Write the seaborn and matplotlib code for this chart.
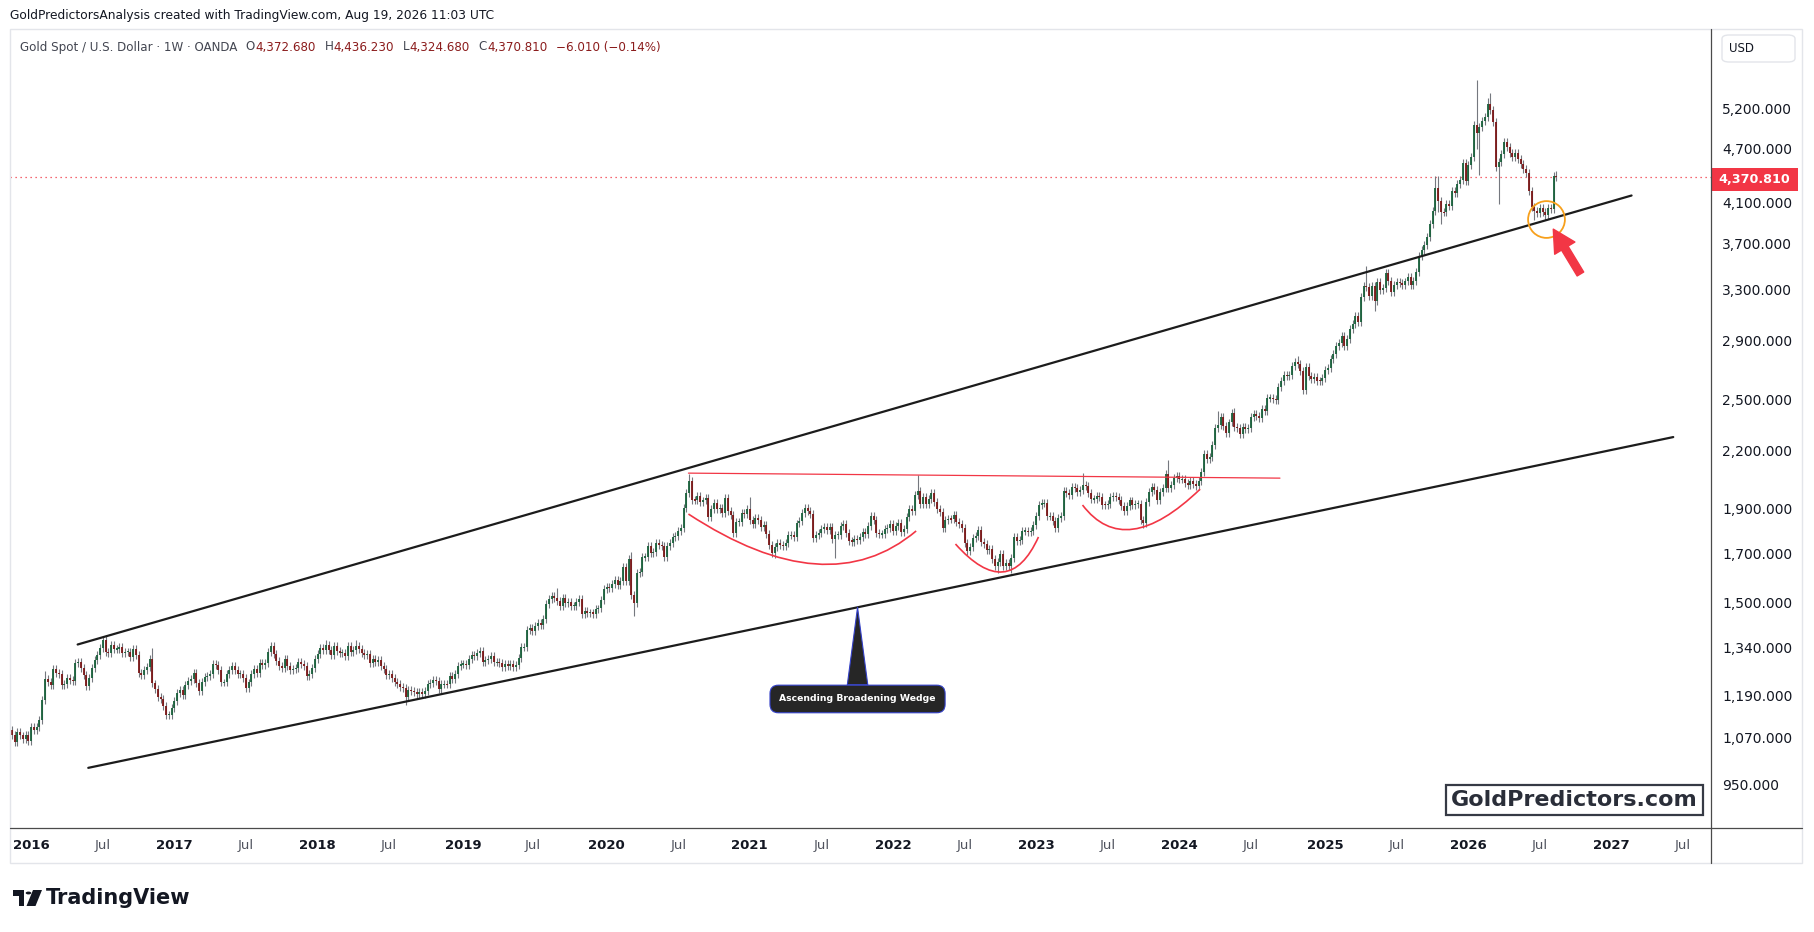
import numpy as np
import pandas as pd
import matplotlib
matplotlib.use("Agg")
import matplotlib.pyplot as plt
import matplotlib.dates as mdates
import seaborn as sns
from matplotlib.patches import Rectangle, FancyBboxPatch, Polygon, PathPatch, Circle
from matplotlib.path import Path
from matplotlib.lines import Line2D
from matplotlib.ticker import NullLocator, NullFormatter

# ---------------- data (weekly closes) ----------------
open_first = 1089
close_2015 = [1077, 1057, 1085, 1075, 1066, 1076, 1061]
close_2016 = [1097, 1089, 1097, 1118, 1174, 1239, 1230, 1221, 1270, 1259, 1255, 1221,
              1222, 1243, 1235, 1232, 1291, 1294, 1273, 1252, 1216, 1243, 1275, 1298, 1315,
              1340, 1366, 1327, 1323, 1350, 1335, 1336, 1341, 1321, 1327, 1327, 1310, 1337, 1316,
              1257, 1251, 1267, 1276, 1304, 1225, 1208, 1183, 1177, 1159, 1133, 1133, 1151]
close_2017 = [1173, 1196, 1205, 1190, 1220, 1234, 1238, 1257, 1226, 1201, 1229, 1244, 1249,
              1254, 1285, 1284, 1268, 1228, 1228, 1254, 1267, 1279, 1266, 1254, 1256, 1242,
              1212, 1228, 1254, 1269, 1258, 1289, 1284, 1291, 1325, 1346, 1320, 1297, 1280,
              1275, 1304, 1280, 1266, 1269, 1275, 1294, 1288, 1280, 1248, 1255, 1275, 1303]
close_2018 = [1320, 1338, 1333, 1349, 1333, 1316, 1347, 1330, 1323, 1324, 1313, 1347, 1325,
              1332, 1345, 1336, 1323, 1315, 1320, 1291, 1302, 1294, 1298, 1279, 1270, 1252,
              1256, 1241, 1231, 1223, 1214, 1212, 1184, 1206, 1201, 1199, 1194, 1199, 1192,
              1203, 1222, 1227, 1235, 1233, 1209, 1222, 1223, 1222, 1248, 1238, 1256, 1280, 1285]
close_2019 = [1288, 1282, 1304, 1317, 1314, 1322, 1328, 1294, 1299, 1302, 1313, 1292,
              1292, 1290, 1276, 1286, 1279, 1285, 1277, 1284, 1305, 1341, 1341, 1400, 1409,
              1399, 1415, 1426, 1419, 1440, 1497, 1513, 1527, 1520, 1507, 1488, 1517, 1498,
              1505, 1488, 1490, 1505, 1514, 1459, 1468, 1462, 1464, 1460, 1476, 1479, 1511, 1552]
close_2020 = [1562, 1557, 1571, 1589, 1570, 1584, 1643, 1585, 1674, 1530, 1498, 1617,
              1620, 1683, 1683, 1729, 1700, 1703, 1743, 1735, 1730, 1684, 1730, 1743, 1771,
              1775, 1799, 1810, 1902, 1975, 2035, 1944, 1940, 1964, 1934, 1940, 1950, 1862,
              1900, 1930, 1899, 1902, 1879, 1951, 1889, 1871, 1788, 1839, 1839, 1881, 1877, 1898]
close_2021 = [1849, 1828, 1856, 1848, 1814, 1824, 1784, 1734, 1700, 1727, 1745, 1733,
              1729, 1744, 1777, 1777, 1769, 1831, 1844, 1881, 1905, 1891, 1877, 1764, 1781,
              1787, 1808, 1815, 1802, 1814, 1763, 1780, 1781, 1818, 1827, 1787, 1754, 1750,
              1761, 1757, 1768, 1793, 1783, 1818, 1864, 1846, 1788, 1783, 1783, 1804, 1811, 1829]
close_2022 = [1797, 1818, 1835, 1791, 1808, 1859, 1898, 1889, 1966, 1988, 1921, 1958,
              1925, 1947, 1975, 1931, 1897, 1883, 1811, 1846, 1853, 1851, 1871, 1840, 1827,
              1811, 1742, 1708, 1727, 1766, 1775, 1802, 1747, 1738, 1712, 1717, 1675, 1644, 1661,
              1695, 1644, 1657, 1644, 1681, 1771, 1751, 1755, 1797, 1797, 1793, 1798, 1824]
close_2023 = [1866, 1920, 1926, 1928, 1865, 1865, 1842, 1811, 1856, 1868, 1989, 1978, 1969,
              2007, 2004, 1983, 1990, 2017, 2011, 1977, 1946, 1948, 1961, 1958, 1920, 1919,
              1925, 1955, 1962, 1959, 1943, 1914, 1889, 1914, 1940, 1919, 1924, 1925, 1848,
              1833, 1932, 1981, 2006, 1992, 1940, 1981, 2002, 2072, 2004, 2019, 2053, 2063]
close_2024 = [2045, 2049, 2029, 2018, 2039, 2024, 2013, 2036, 2083, 2179, 2155, 2165, 2230,
              2329, 2344, 2392, 2337, 2301, 2360, 2415, 2334, 2327, 2294, 2333, 2322, 2326,
              2392, 2411, 2400, 2386, 2443, 2431, 2507, 2512, 2503, 2497, 2577, 2622, 2658,
              2653, 2657, 2721, 2747, 2736, 2685, 2563, 2716, 2650, 2633, 2648, 2622, 2621, 2640]
close_2025 = [2690, 2703, 2770, 2800, 2861, 2883, 2936, 2858, 2910, 2984, 3023, 3085,
              3037, 3237, 3327, 3319, 3241, 3325, 3205, 3358, 3289, 3310, 3433, 3368, 3274,
              3337, 3355, 3350, 3337, 3363, 3398, 3336, 3371, 3448, 3586, 3643, 3685, 3760,
              3886, 4018, 4250, 4113, 4002, 4000, 4085, 4065, 4220, 4200, 4300, 4340, 4530, 4330]
close_2026 = [4510, 4600, 4980, 4880, 4960, 5030, 5090, 5250, 5180, 5020, 4480, 4540, 4630,
              4780, 4720, 4650, 4600, 4640, 4580, 4520, 4460, 4420, 4220, 4060, 4010, 3990,
              4050, 4000, 3975, 4050, 4030, 4378.69, 4370.81]

# notable wick extremes (week starting Monday -> price)
spike_highs = {"2016-07-04": 1375, "2016-02-08": 1263, "2016-11-07": 1338, "2017-09-04": 1357,
               "2018-01-22": 1366, "2018-04-09": 1365, "2019-09-02": 1557, "2020-03-02": 1692,
               "2020-03-09": 1703, "2020-08-03": 2075, "2020-11-09": 1965, "2021-01-04": 1959,
               "2021-06-07": 1903, "2022-03-07": 2070, "2022-04-18": 1998, "2023-05-01": 2079,
               "2023-12-04": 2146, "2024-04-08": 2431, "2024-05-20": 2450, "2024-10-28": 2790,
               "2025-04-21": 3500, "2025-06-09": 3446, "2025-10-13": 4381, "2025-10-20": 4381,
               "2026-01-26": 5580, "2026-02-23": 5330, "2026-03-02": 5400, "2026-08-10": 4410,
               "2026-08-17": 4436.23}
spike_lows = {"2015-11-30": 1046, "2016-12-12": 1124, "2018-08-13": 1160, "2020-03-16": 1451,
              "2021-03-08": 1677, "2021-08-09": 1677, "2022-09-26": 1615, "2022-10-31": 1617,
              "2023-10-02": 1810, "2024-11-11": 2537, "2025-05-12": 3121, "2025-10-20": 4004,
              "2025-10-27": 3886, "2026-01-26": 4690, "2026-02-02": 4400, "2026-03-23": 4090,
              "2026-06-22": 3925, "2026-07-20": 3920, "2026-08-17": 4324.68}

last_price = 4370.81
y_ticks = [950, 1070, 1190, 1340, 1500, 1700, 1900, 2200, 2500, 2900, 3300, 3700, 4100, 4700, 5200]

upper_line_dates = ["2016-05-01", "2027-02-24"]
upper_line_prices = [1351, 4174]
lower_line_dates = ["2016-05-28", "2027-06-10"]
lower_line_prices = [991, 2275]
neck_dates = ["2020-08-01", "2024-09-13"]
neck_prices = [2078, 2052]
arc1 = (["2020-08-01", "2021-06-19", "2022-03-03"], [1875, 1654, 1797])
arc2 = (["2022-06-11", "2022-10-09", "2023-01-08"], [1739, 1621, 1770])
arc3 = (["2023-04-30", "2023-09-06", "2024-02-23"], [1918, 1805, 1996])
circle_date, circle_price = "2026-07-21", 3936
arrow_tip = ("2026-08-09", 3836)
arrow_tail = ("2026-10-17", 3427)
callout_date = "2021-10-05"

# ---------------- assemble weekly OHLC ----------------
def first_monday(y):
    d = pd.Timestamp(y, 1, 1)
    return d + pd.Timedelta(days=(7 - d.weekday()) % 7)

blocks = [(pd.Timestamp("2015-11-16"), close_2015)] + [
    (first_monday(y), v) for y, v in zip(range(2016, 2027),
    [close_2016, close_2017, close_2018, close_2019, close_2020, close_2021,
     close_2022, close_2023, close_2024, close_2025, close_2026])]
dates, closes = [], []
for start, vals in blocks:
    for i, v in enumerate(vals):
        dates.append(start + pd.Timedelta(weeks=i))
        closes.append(v)
dates = pd.DatetimeIndex(dates)
c = np.array(closes, float)
o = np.concatenate([[open_first], c[:-1]])
wick = 0.010
hi = np.maximum(o, c) * (1 + wick)
lo = np.minimum(o, c) * (1 - wick)
for d, v in spike_highs.items():
    i = int(np.argmin(np.abs((dates - pd.Timestamp(d)).days)))
    hi[i] = max(hi[i], v)
for d, v in spike_lows.items():
    i = int(np.argmin(np.abs((dates - pd.Timestamp(d)).days)))
    lo[i] = min(lo[i], v)
x = mdates.date2num(dates)
up = c >= o
btop = np.maximum(o, c)
bbot = np.minimum(o, c)
thin = btop / bbot < 1.003
mid = np.sqrt(btop * bbot)
btop = np.where(thin, mid * 1.0015, btop)
bbot = np.where(thin, mid / 1.0015, bbot)

# ---------------- figure ----------------
W, H = 1814, 932
sns.set_theme(style="white")
plt.rcParams["font.family"] = ["DejaVu Sans"]
fig = plt.figure(figsize=(W / 100, H / 100), dpi=100, facecolor="white")

def fx(px): return px / W
def fy(py): return 1 - py / H

ax = fig.add_axes([fx(10), fy(828), (1711 - 10) / W, (828 - 29) / H])
ax.set_facecolor("white")
ax.set_yscale("log")
ax.set_ylim(852, 6342)
ax.set_xlim(mdates.date2num(pd.Timestamp("2015-11-11")), mdates.date2num(pd.Timestamp("2027-09-14")))

GREEN, RED, WICK = "#17603a", "#7a1414", "#75787f"
ax.vlines(x, lo, hi, color=WICK, lw=0.8, zorder=2)
ax.vlines(x[up], bbot[up], btop[up], color=GREEN, lw=1.3, zorder=3)
ax.vlines(x[~up], bbot[~up], btop[~up], color=RED, lw=1.3, zorder=3)

# trend lines
for ds, ps in [(upper_line_dates, upper_line_prices), (lower_line_dates, lower_line_prices)]:
    sns.lineplot(x=mdates.date2num(pd.to_datetime(ds)), y=ps, ax=ax, color="#1c1c1c",
                 linewidth=1.6, legend=False, estimator=None, sort=False, zorder=4)
sns.lineplot(x=mdates.date2num(pd.to_datetime(neck_dates)), y=neck_prices, ax=ax, color="#f23645",
             linewidth=0.9, legend=False, estimator=None, sort=False, zorder=4)

def draw_arc(ds, ps):
    xs = mdates.date2num(pd.to_datetime(ds))
    ls = np.log(ps)
    cx = 2 * xs[1] - (xs[0] + xs[2]) / 2
    cl = 2 * ls[1] - (ls[0] + ls[2]) / 2
    path = Path([(xs[0], ps[0]), (cx, np.exp(cl)), (xs[2], ps[2])],
                [Path.MOVETO, Path.CURVE3, Path.CURVE3])
    ax.add_patch(PathPatch(path, fc="none", ec="#f23645", lw=1.2, zorder=4))

for a in (arc1, arc2, arc3):
    draw_arc(*a)

ax.axhline(last_price, color="#f23645", lw=0.9, linestyle=(0, (1, 3)), zorder=1)

# circle and arrow
ax.plot([mdates.date2num(pd.Timestamp(circle_date))], [circle_price], marker="o", ms=26.5,
        mfc="none", mec="#f7a01c", mew=1.3, zorder=5)
ax.annotate("", xy=(mdates.date2num(pd.Timestamp(arrow_tip[0])), arrow_tip[1]),
            xytext=(mdates.date2num(pd.Timestamp(arrow_tail[0])), arrow_tail[1]),
            arrowprops=dict(facecolor="#f23645", edgecolor="#f23645", width=5.5,
                            headwidth=17, headlength=16, shrink=0), zorder=6)

# callout on lower line
lx = mdates.date2num(pd.to_datetime(lower_line_dates))
tx = mdates.date2num(pd.Timestamp(callout_date))
tp = np.exp(np.interp(tx, lx, np.log(lower_line_prices)))
ax.annotate("Ascending Broadening Wedge", xy=(tx, tp), xytext=(0, -66), textcoords="offset points",
            ha="center", va="center", fontsize=6.7, fontweight="bold", color="white",
            bbox=dict(boxstyle="round,pad=1.0,rounding_size=0.9", fc="#262626", ec="#3340c8", lw=0.8),
            arrowprops=dict(arrowstyle="wedge,tail_width=2.2", fc="#262626", ec="#3340c8", lw=0.8,
                            shrinkA=0, shrinkB=0), zorder=6)

# axes styling
for s in ax.spines.values():
    s.set_visible(False)
ax.yaxis.tick_right()
ax.set_yticks(y_ticks)
ax.set_yticklabels([f"{v:,.3f}" for v in y_ticks])
ax.yaxis.set_minor_locator(NullLocator())
ax.yaxis.set_minor_formatter(NullFormatter())
ax.tick_params(axis="y", which="both", length=0, pad=8, labelsize=10, labelcolor="#131722")

tick_pos, tick_lab, tick_year = [], [], []
for y in range(2016, 2028):
    for m, lab, isy in [(1, str(y), True), (7, "Jul", False)]:
        d = pd.Timestamp(y, m, 1)
        d = d + pd.Timedelta(days=(7 - d.weekday()) % 7)
        tick_pos.append(mdates.date2num(d)); tick_lab.append(lab); tick_year.append(isy)
ax.set_xticks(tick_pos)
ax.set_xticklabels(tick_lab)
ax.tick_params(axis="x", length=0, pad=8, labelsize=9.5)
for lbl, isy in zip(ax.get_xticklabels(), tick_year):
    lbl.set_fontweight("bold" if isy else "normal")
    lbl.set_color("#131722" if isy else "#50535e")
ax.set_xlabel(""); ax.set_ylabel("")
ax.grid(False)

# frame lines
fig.add_artist(Rectangle((fx(10), fy(863)), (1802 - 10) / W, (863 - 29) / H, transform=fig.transFigure,
                         fill=False, ec="#e3e5ea", lw=1.0))
fig.add_artist(Line2D([fx(1711), fx(1711)], [fy(29), fy(863)], transform=fig.transFigure,
                      color="#4a4a4a", lw=0.9))
fig.add_artist(Line2D([fx(10), fx(1802)], [fy(828), fy(828)], transform=fig.transFigure,
                      color="#4a4a4a", lw=0.9))

# USD box
fig.add_artist(FancyBboxPatch((fx(1722), fy(62)), 73 / W, 27 / H, boxstyle="round,pad=0,rounding_size=0.004",
                              transform=fig.transFigure, fc="white", ec="#e3e5ea", lw=1.0))
fig.text(fx(1729), fy(49), "USD", fontsize=8.5, color="#131722", va="center", ha="left")

# last price label
fig.add_artist(Rectangle((fx(1711), fy(191)), 87 / W, 23 / H, transform=fig.transFigure,
                         fc="#f23645", ec="none"))
fig.text(fx(1754.5), fy(179.5), "4,370.810", fontsize=9.2, fontweight="bold", color="white",
         va="center", ha="center")

# header
fig.text(fx(10), fy(16), "GoldPredictorsAnalysis created with TradingView.com, Aug 19, 2026 11:03 UTC",
         fontsize=8.8, color="#131722", va="center", ha="left")
renderer = fig.canvas.get_renderer()
GREY, VAL = "#434651", "#8b1c1c"
pieces = [("Gold Spot / U.S. Dollar · 1W · OANDA", GREY, 8), ("O", GREY, 0), ("4,372.680", VAL, 8),
          ("H", GREY, 0), ("4,436.230", VAL, 8), ("L", GREY, 0), ("4,324.680", VAL, 8),
          ("C", GREY, 0), ("4,370.810", VAL, 8), ("−6.010 (−0.14%)", VAL, 0)]
px = 20
for txt, col, gap in pieces:
    t = fig.text(fx(px), fy(47), txt, fontsize=8.6, color=col, va="center", ha="left")
    bb = t.get_window_extent(renderer)
    px = bb.x1 + gap + 0.5

# watermark
fig.text(fx(1574.5), fy(800), "GoldPredictors.com", fontsize=16, fontweight="bold", color="#2a2e39",
         ha="center", va="center",
         bbox=dict(boxstyle="square,pad=0.22", fc="white", ec="#363a45", lw=1.6))

# TradingView logo
logo = "#131722"
fig.add_artist(Rectangle((fx(13), fy(896)), 11 / W, 6 / H, transform=fig.transFigure, fc=logo, ec="none"))
fig.add_artist(Rectangle((fx(18.5), fy(906)), 5.5 / W, 16 / H, transform=fig.transFigure, fc=logo, ec="none"))
fig.add_artist(Circle((fx(28.5), fy(893)), 2.8 / W, transform=fig.transFigure, fc=logo, ec="none"))
fig.add_artist(Polygon([(fx(33), fy(890)), (fx(42), fy(890)), (fx(35.5), fy(906)), (fx(26.5), fy(906))],
                       closed=True, transform=fig.transFigure, fc=logo, ec="none"))
fig.text(fx(46), fy(898), "TradingView", fontsize=15, fontweight="bold", color=logo, va="center", ha="left")

fig.savefig("out.png", dpi=100, facecolor="white")
